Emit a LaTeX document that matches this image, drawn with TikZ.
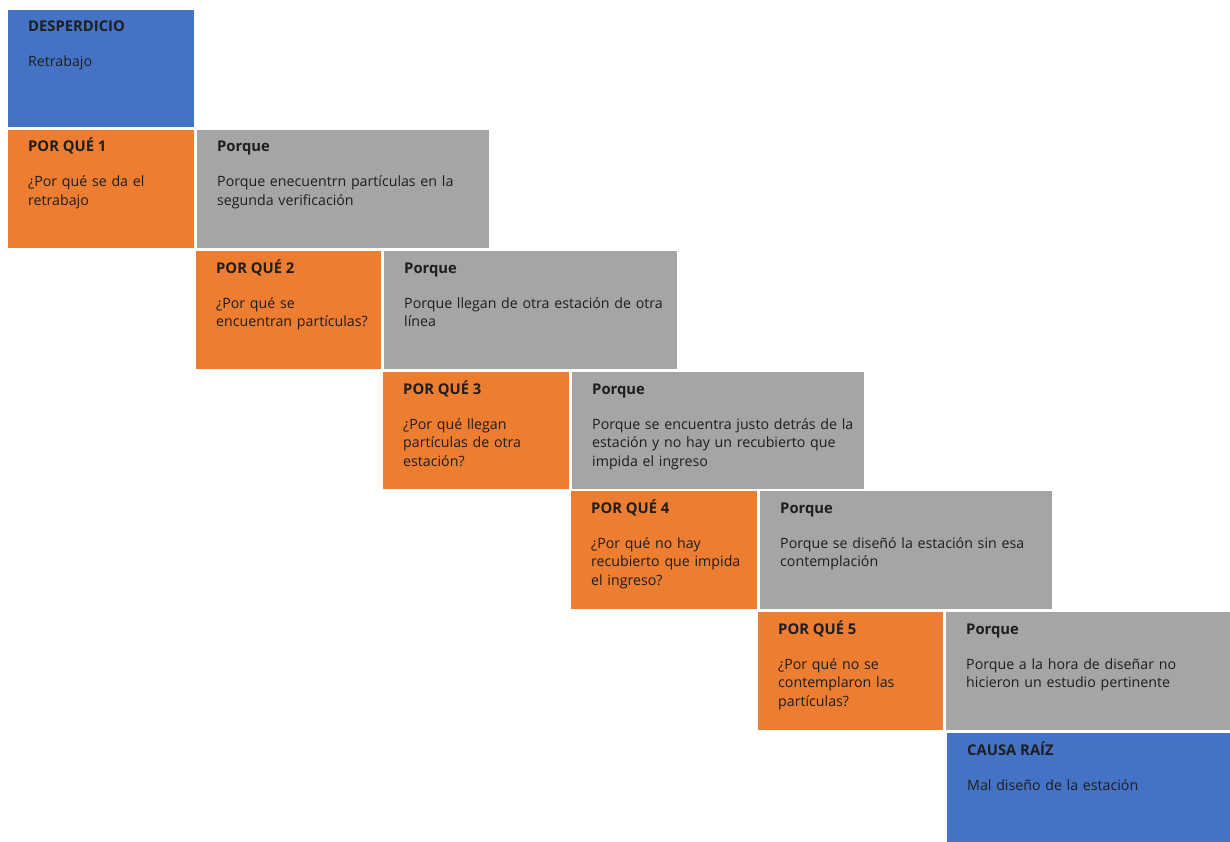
\documentclass[tikz,border=0pt]{standalone}
\usepackage{fontspec}
\setmainfont{Open Sans}
\definecolor{cblue}{HTML}{4472C4}
\definecolor{corange}{HTML}{ED7D31}
\definecolor{cgrey}{HTML}{A5A5A5}
\definecolor{ctext}{HTML}{1E1E1E}
\begin{document}
\begin{tikzpicture}[x=1pt,y=-1pt,
  box/.style={rectangle,draw=none,inner sep=0pt,outer sep=0pt,anchor=north west},
  bluebox/.style={box,fill=cblue},
  orangebox/.style={box,fill=corange},
  greybox/.style={box,fill=cgrey},
  ttl/.style={anchor=base west,inner sep=0pt,text=ctext,font=\fontsize{14.8}{18.5}\selectfont\bfseries},
  bdy/.style={anchor=base west,inner sep=0pt,text=ctext,text width=270pt,align=left,font=\fontsize{14.2}{18.5}\selectfont}]
\useasboundingbox (0,0) rectangle (1230,842);
\fill[white] (0,0) rectangle (1230,842);
% boxes
\node[bluebox,minimum width=186pt,minimum height=117pt] (d) at (8,10) {};
\node[orangebox,minimum width=186pt,minimum height=118pt] (q1) at (8,130) {};
\node[greybox,minimum width=292pt,minimum height=118pt] (a1) at (197,130) {};
\node[orangebox,minimum width=185pt,minimum height=118pt] (q2) at (196,251) {};
\node[greybox,minimum width=293pt,minimum height=118pt] (a2) at (384,251) {};
\node[orangebox,minimum width=186pt,minimum height=117pt] (q3) at (383,372) {};
\node[greybox,minimum width=292pt,minimum height=117pt] (a3) at (572,372) {};
\node[orangebox,minimum width=186pt,minimum height=118pt] (q4) at (571,491) {};
\node[greybox,minimum width=292pt,minimum height=118pt] (a4) at (760,491) {};
\node[orangebox,minimum width=185pt,minimum height=118pt] (q5) at (758,612) {};
\node[greybox,minimum width=284pt,minimum height=118pt] (a5) at (946,612) {};
\node[bluebox,minimum width=283pt,minimum height=109pt] (r) at (947,733) {};
% texts
\node[ttl] (dt) at ([shift={(20,22)}]d.north west) {DESPERDICIO};
\node[bdy] (db) at ([shift={(20,57)}]d.north west) {Retrabajo};
\node[ttl] (q1t) at ([shift={(20,22)}]q1.north west) {POR QUÉ 1};
\node[bdy] (q1b) at ([shift={(20,57)}]q1.north west) {¿Por qué se da el\\retrabajo};
\node[ttl] (a1t) at ([shift={(20,22)}]a1.north west) {Porque};
\node[bdy] (a1b) at ([shift={(20,57)}]a1.north west) {Porque enecuentrn partículas en la\\segunda verificación};
\node[ttl] (q2t) at ([shift={(20,22)}]q2.north west) {POR QUÉ 2};
\node[bdy] (q2b) at ([shift={(20,57)}]q2.north west) {¿Por qué se\\encuentran partículas?};
\node[ttl] (a2t) at ([shift={(20,22)}]a2.north west) {Porque};
\node[bdy] (a2b) at ([shift={(20,57)}]a2.north west) {Porque llegan de otra estación de otra\\línea};
\node[ttl] (q3t) at ([shift={(20,22)}]q3.north west) {POR QUÉ 3};
\node[bdy] (q3b) at ([shift={(20,57)}]q3.north west) {¿Por qué llegan\\partículas de otra\\estación?};
\node[ttl] (a3t) at ([shift={(20,22)}]a3.north west) {Porque};
\node[bdy] (a3b) at ([shift={(20,57)}]a3.north west) {Porque se encuentra justo detrás de la\\estación y no hay un recubierto que\\impida el ingreso};
\node[ttl] (q4t) at ([shift={(20,22)}]q4.north west) {POR QUÉ 4};
\node[bdy] (q4b) at ([shift={(20,57)}]q4.north west) {¿Por qué no hay\\recubierto que impida\\el ingreso?};
\node[ttl] (a4t) at ([shift={(20,22)}]a4.north west) {Porque};
\node[bdy] (a4b) at ([shift={(20,57)}]a4.north west) {Porque se diseñó la estación sin esa\\contemplación};
\node[ttl] (q5t) at ([shift={(20,22)}]q5.north west) {POR QUÉ 5};
\node[bdy] (q5b) at ([shift={(20,57)}]q5.north west) {¿Por qué no se\\contemplaron las\\partículas?};
\node[ttl] (a5t) at ([shift={(20,22)}]a5.north west) {Porque};
\node[bdy] (a5b) at ([shift={(20,57)}]a5.north west) {Porque a la hora de diseñar no\\hicieron un estudio pertinente};
\node[ttl] (rt) at ([shift={(20,22)}]r.north west) {CAUSA RAÍZ};
\node[bdy] (rb) at ([shift={(20,57)}]r.north west) {Mal diseño de la estación};
\end{tikzpicture}
\end{document}
